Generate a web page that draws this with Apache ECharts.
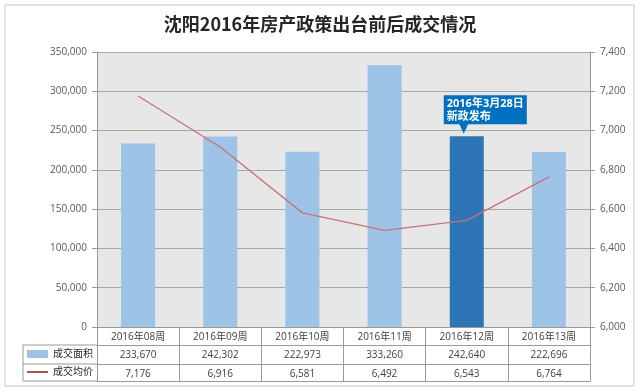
<!DOCTYPE html>
<html><head><meta charset="utf-8">
<script src="https://cdn.jsdelivr.net/npm/echarts@6/dist/echarts.min.js"></script>
<style>html,body{margin:0;padding:0;background:#fff}#c{width:640px;height:392px}</style>
</head><body><div id="c"></div>
<script>
var categories = ['2016年08周','2016年09周','2016年10周','2016年11周','2016年12周','2016年13周'];
var areaValues = [233670, 242302, 222973, 333260, 242640, 222696];
var priceValues = [7176, 6916, 6581, 6492, 6543, 6764];
var seriesNames = ['成交面积', '成交均价'];
var titleText = '沈阳2016年房产政策出台前后成交情况';
var noteText = '2016年3月28日\n新政发布';
var highlightIndex = 4;

function fmt(n){ return String(n).replace(/\B(?=(\d{3})+(?!\d))/g, ','); }

var FONT = '"Open Sans","Noto Sans CJK SC",sans-serif';
var lineC = '#999999';
var chart = echarts.init(document.getElementById('c'));

var barData = areaValues.map(function(v, i){
  if (i !== highlightIndex) return v;
  return {
    value: v,
    itemStyle: {color: '#2e75b6'},
    label: {
      show: true, position: 'top', distance: 14, offset: [-23, 2],
      formatter: noteText, backgroundColor: '#0070c0', color: '#fff',
      fontWeight: 'bold', fontSize: 11, lineHeight: 13, padding: [2, 3, 1, 3],
      align: 'left', fontFamily: FONT
    }
  };
});

function tableAxis(offset, vals, showLabel){
  return {
    type: 'category', position: 'bottom', gridIndex: 0, offset: offset,
    data: vals,
    axisLine: {show: true, lineStyle: {color: lineC}},
    axisTick: {show: false},
    axisLabel: {show: showLabel, interval: 0, fontSize: 10, color: '#404040', margin: 5, fontFamily: FONT}
  };
}

chart.setOption({
  animation: false,
  title: {text: titleText, left: 'center', top: 10,
    textStyle: {fontSize: 18, fontWeight: 'bold', color: '#262626', fontFamily: '"Noto Sans CJK SC",sans-serif'}},
  grid: {left: 97, right: 50, top: 52, bottom: 65, show: true, backgroundColor: '#e7e7e7', borderWidth: 0},
  legend: [
    {data: [{name: seriesNames[0], icon: 'rect'}], left: 27, top: 349, padding: 0, itemWidth: 21, itemHeight: 8, itemGap: 4,
      textStyle: {fontSize: 10, color: '#262626', fontFamily: FONT}},
    {data: [{name: seriesNames[1], icon: 'rect'}], left: 27, top: 367, padding: 0, itemWidth: 21, itemHeight: 1.5, itemGap: 4,
      textStyle: {fontSize: 10, color: '#262626', fontFamily: FONT}}
  ],
  xAxis: [
    {type: 'category', position: 'bottom', data: categories,
      axisLine: {show: true, lineStyle: {color: lineC}},
      axisTick: {show: true, length: 54, interval: 0, lineStyle: {color: lineC}},
      axisLabel: {interval: 0, fontSize: 10, color: '#404040', margin: 5, fontFamily: FONT}},
    tableAxis(18, areaValues.map(fmt), true),
    tableAxis(37, priceValues.map(fmt), true),
    tableAxis(54, categories, false)
  ],
  yAxis: [
    {type: 'value', min: 0, max: 350000, interval: 50000,
      axisLine: {show: true, lineStyle: {color: lineC}},
      axisTick: {show: true, length: 5, lineStyle: {color: lineC}},
      splitLine: {lineStyle: {color: '#a8a8a8', width: 1}},
      axisLabel: {formatter: function(v){return fmt(v);}, fontSize: 10, color: '#595959', margin: 10, fontFamily: FONT}},
    {type: 'value', min: 6000, max: 7400, interval: 200,
      axisLine: {show: true, lineStyle: {color: lineC}},
      axisTick: {show: true, length: 5, lineStyle: {color: lineC}},
      splitLine: {show: false},
      axisLabel: {formatter: function(v){return fmt(v);}, fontSize: 10, color: '#595959', margin: 10, fontFamily: FONT}}
  ],
  series: [
    {name: seriesNames[0], type: 'bar', xAxisIndex: 0, yAxisIndex: 0, data: barData, barWidth: 34,
      itemStyle: {color: '#9dc3e6'},
      markPoint: {silent: true, symbol: 'triangle', symbolRotate: 180, symbolSize: [10, 11],
        symbolOffset: [-3, -8], itemStyle: {color: '#0070c0'}, label: {show: false},
        data: [{coord: [highlightIndex, areaValues[highlightIndex]]}]}},
    {name: seriesNames[1], type: 'line', xAxisIndex: 0, yAxisIndex: 1, data: priceValues,
      symbol: 'none', lineStyle: {color: '#c8727a', width: 1.3}, itemStyle: {color: '#7f1f1f'}}
  ],
  graphic: [
    {type: 'rect', shape: {x: 5, y: 5, width: 629, height: 381}, style: {fill: 'none', stroke: '#c8c8c8', lineWidth: 1}, silent: true, z: -1},
    {type: 'line', shape: {x1: 23, y1: 345, x2: 97, y2: 345}, style: {stroke: lineC, lineWidth: 1}},
    {type: 'line', shape: {x1: 23, y1: 364, x2: 97, y2: 364}, style: {stroke: lineC, lineWidth: 1}},
    {type: 'line', shape: {x1: 23, y1: 381, x2: 97, y2: 381}, style: {stroke: lineC, lineWidth: 1}},
    {type: 'line', shape: {x1: 23, y1: 345, x2: 23, y2: 381}, style: {stroke: lineC, lineWidth: 1}}
  ]
});
</script></body></html>
